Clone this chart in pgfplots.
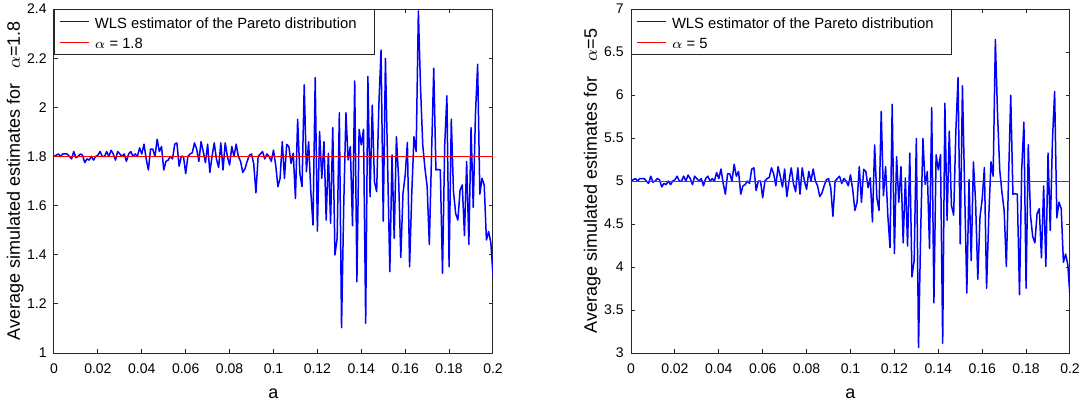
\documentclass[border=0pt]{standalone}
\usepackage{fontspec}
\setmainfont{Liberation Sans}
\usepackage{pgfplots}
\usepackage{pgfplotstable}
\pgfplotsset{compat=1.18}
\definecolor{axgray}{RGB}{38,38,38}
\definecolor{mblueA}{RGB}{0,0,255}
\definecolor{mblueB}{RGB}{0,0,254}
\definecolor{mblueC}{RGB}{0,0,253}
\definecolor{mblueD}{RGB}{0,0,252}
\definecolor{mredA}{RGB}{255,0,0}
\definecolor{mredB}{RGB}{254,0,0}
\definecolor{mredC}{RGB}{253,0,0}
\definecolor{mredD}{RGB}{252,0,0}

% a, estimate for alpha=1.8 (L), estimate for alpha=5 (R)
\pgfplotstableread{
a L R
0 1.800 5.000
0.001 1.805 5.014
0.002 1.810 5.028
0.003 1.800 5.000
0.004 1.810 5.028
0.005 1.810 5.028
0.006 1.810 5.028
0.007 1.800 5.000
0.008 1.790 4.972
0.009 1.820 5.056
0.010 1.795 4.986
0.011 1.800 5.000
0.012 1.810 5.028
0.013 1.805 5.014
0.014 1.775 4.931
0.015 1.790 4.972
0.016 1.785 4.958
0.017 1.800 5.000
0.018 1.785 4.958
0.019 1.800 5.000
0.020 1.805 5.014
0.021 1.820 5.056
0.022 1.800 5.000
0.023 1.800 5.000
0.024 1.820 5.056
0.025 1.800 5.000
0.026 1.825 5.069
0.027 1.810 5.028
0.028 1.785 4.958
0.029 1.820 5.056
0.030 1.810 5.028
0.031 1.800 5.000
0.032 1.810 5.028
0.033 1.780 4.944
0.034 1.810 5.028
0.035 1.820 5.056
0.036 1.800 5.000
0.037 1.810 5.028
0.038 1.800 5.000
0.039 1.835 5.097
0.040 1.810 5.028
0.041 1.850 5.139
0.042 1.790 4.972
0.043 1.745 4.847
0.044 1.830 5.083
0.045 1.830 5.083
0.046 1.800 5.000
0.047 1.870 5.194
0.048 1.820 5.056
0.049 1.840 5.111
0.050 1.745 4.847
0.051 1.780 4.944
0.052 1.785 4.958
0.053 1.800 5.000
0.054 1.790 4.972
0.055 1.850 5.139
0.056 1.855 5.153
0.057 1.760 4.889
0.058 1.800 5.000
0.059 1.800 5.000
0.060 1.730 4.806
0.061 1.800 5.000
0.062 1.810 5.028
0.063 1.815 5.042
0.064 1.855 5.153
0.065 1.830 5.083
0.066 1.780 4.944
0.067 1.860 5.167
0.068 1.820 5.056
0.069 1.775 4.931
0.070 1.850 5.139
0.071 1.735 4.819
0.072 1.800 5.000
0.073 1.855 5.153
0.074 1.790 4.972
0.075 1.755 4.875
0.076 1.855 5.153
0.077 1.745 4.847
0.078 1.855 5.153
0.079 1.800 5.000
0.080 1.765 4.903
0.081 1.840 5.111
0.082 1.800 5.000
0.083 1.850 5.139
0.084 1.800 5.000
0.085 1.780 4.944
0.086 1.735 4.819
0.087 1.750 4.861
0.088 1.780 4.944
0.089 1.805 5.014
0.090 1.810 5.028
0.091 1.770 4.917
0.092 1.652 4.589
0.093 1.800 5.000
0.094 1.810 5.028
0.095 1.820 5.056
0.096 1.790 4.972
0.097 1.810 5.028
0.098 1.800 5.000
0.099 1.780 4.944
0.100 1.826 5.072
0.101 1.765 4.903
0.102 1.677 4.658
0.103 1.711 4.753
0.104 1.860 5.167
0.105 1.711 4.753
0.106 1.849 5.136
0.107 1.840 5.111
0.108 1.772 4.922
0.109 1.813 5.036
0.110 1.629 4.525
0.111 1.951 5.419
0.112 1.731 4.808
0.113 1.677 4.658
0.114 2.091 5.808
0.115 1.738 4.828
0.116 1.860 5.167
0.117 1.657 4.603
0.118 1.521 4.225
0.119 2.121 5.892
0.120 1.496 4.156
0.121 1.901 5.281
0.122 1.711 4.753
0.123 1.860 5.167
0.124 1.541 4.281
0.125 1.813 5.036
0.126 1.528 4.244
0.127 1.917 5.325
0.128 1.399 3.886
0.129 1.467 4.075
0.130 1.978 5.494
0.131 1.103 3.064
0.132 1.600 4.444
0.133 1.978 5.494
0.134 1.786 4.961
0.135 1.840 5.111
0.136 1.518 4.217
0.137 2.107 5.853
0.138 1.290 3.583
0.139 1.910 5.306
0.140 1.847 5.131
0.141 1.910 5.306
0.142 1.121 3.114
0.143 2.125 5.903
0.144 1.636 4.544
0.145 2.009 5.581
0.146 1.697 4.714
0.147 1.657 4.603
0.148 2.009 5.581
0.149 2.233 6.203
0.150 1.537 4.269
0.151 2.199 6.108
0.152 1.765 4.903
0.153 1.331 3.697
0.154 1.806 5.017
0.155 1.467 4.075
0.156 1.880 5.222
0.157 1.711 4.753
0.158 1.389 3.858
0.159 1.650 4.583
0.160 1.724 4.789
0.161 1.857 5.158
0.162 1.351 3.753
0.163 1.650 4.583
0.164 1.880 5.222
0.165 1.820 5.056
0.166 2.392 6.644
0.167 2.077 5.769
0.168 1.846 5.128
0.169 1.752 4.867
0.170 1.677 4.658
0.171 1.442 4.006
0.172 1.806 5.017
0.173 2.159 5.997
0.174 1.745 4.847
0.175 1.747 4.853
0.176 1.745 4.847
0.177 1.324 3.678
0.178 1.846 5.128
0.179 2.047 5.686
0.180 1.351 3.753
0.181 1.952 5.422
0.182 1.657 4.603
0.183 1.568 4.356
0.184 1.541 4.281
0.185 1.663 4.619
0.186 1.684 4.678
0.187 1.478 4.106
0.188 1.779 4.942
0.189 1.442 4.006
0.190 1.917 5.325
0.191 1.593 4.425
0.192 1.969 5.469
0.193 2.175 6.042
0.194 1.646 4.572
0.195 1.711 4.753
0.196 1.684 4.678
0.197 1.460 4.056
0.198 1.494 4.150
0.199 1.450 4.028
0.200 1.317 3.658
}\estdata

% each line and each legend sample gets its own colour name
\pgfplotsset{
  sample/.style 2 args={legend image code/.code={\path (-2.5pt,0pt) (17pt,0pt);
    \draw[draw=#1, line width=#2] (0pt,0pt) -- (14.5pt,0pt);}},
  wlsline/.style 2 args={draw=#1, line width=0.75pt, line join=round,
    sample={#2}{0.75pt}},
  trueline/.style 2 args={draw=#1, line width=0.5pt, sample={#2}{0.5pt}},
}

\pgfplotsset{wls/.style={
  scale only axis, width=219.5pt, height=172pt,
  xmin=0, xmax=0.2,
  xtick={0,0.02,0.04,0.06,0.08,0.1,0.12,0.14,0.16,0.18,0.2},
  xticklabels={0,0.02,0.04,0.06,0.08,0.1,0.12,0.14,0.16,0.18,0.2},
  tick align=inside, major tick length=2pt,
  axis line style={draw=axgray, line width=0.5pt},
  every tick/.style={draw=axgray, line width=0.5pt},
  tick label style={font=\fontsize{7}{8}\selectfont},
  xticklabel style={inner ysep=5pt},
  yticklabel style={inner xsep=3.5pt},
  label style={font=\fontsize{9}{10}\selectfont},
  xlabel={a},
  xlabel style={at={(axis description cs:0.5,0)}, anchor=base, yshift=-22.5pt},
  ylabel style={at={(axis description cs:-0.0775,0.5)}, anchor=base},
  legend cell align=left,
  legend style={at={(0,1)}, anchor=north west, draw=axgray, line width=0.5pt,
    fill=white, font=\fontsize{7.4}{8}\selectfont,
    inner xsep=0pt, inner ysep=1.5pt, row sep=0.95pt,
    nodes={inner sep=0pt, text height=7.95pt, text depth=1.25pt}},
}}

\begin{document}
\begin{tikzpicture}
\begin{axis}[wls, name=L,
  ymin=1, ymax=2.4,
  ytick={1,1.2,1.4,1.6,1.8,2,2.2,2.4},
  yticklabels={1,1.2,1.4,1.6,1.8,2,2.2,2.4},
  ylabel={Average simulated estimates for \ \ $\alpha$=1.8}]
\addplot[wlsline={mblueA}{mblueB}] table[x=a, y=L] {\estdata};
\addlegendentry{WLS estimator of the Pareto distribution\hspace*{9pt}}
\addplot[trueline={mredA}{mredB}] coordinates {(0,1.8) (0.2,1.8)};
\addlegendentry{$\alpha$ = 1.8}
\end{axis}

\begin{axis}[wls, at={(288.5pt,0pt)}, anchor=south west,
  ymin=3, ymax=7,
  ytick={3,3.5,4,4.5,5,5.5,6,6.5,7},
  yticklabels={3,3.5,4,4.5,5,5.5,6,6.5,7},
  ylabel={Average simulated estimates for \ \ $\alpha$=5}]
\addplot[wlsline={mblueC}{mblueD}] table[x=a, y=R] {\estdata};
\addlegendentry{WLS estimator of the Pareto distribution\hspace*{9pt}}
\addplot[trueline={mredC}{mredD}] coordinates {(0,5) (0.2,5)};
\addlegendentry{$\alpha$ = 5}
\end{axis}

\pgfresetboundingbox
\path (-27pt,-25.5pt) rectangle (515pt,176.5pt);
\end{tikzpicture}
\end{document}
